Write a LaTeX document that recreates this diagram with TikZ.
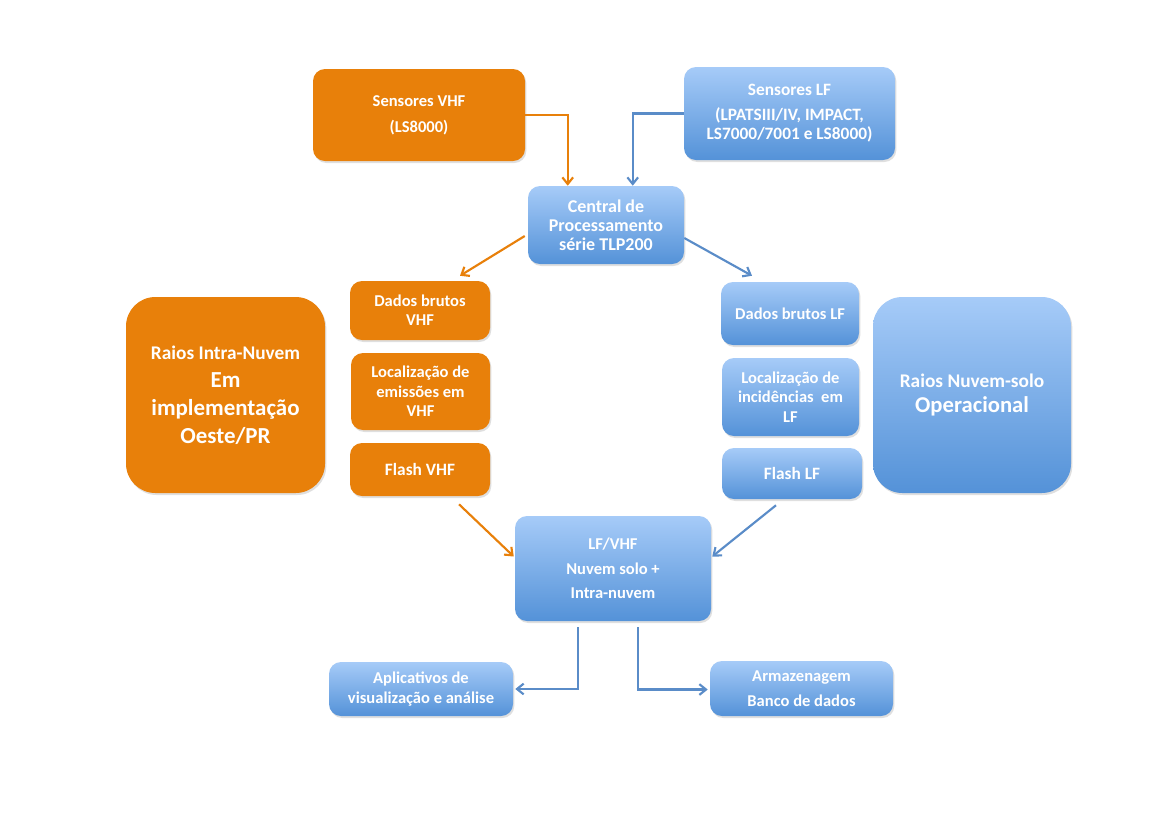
\documentclass[tikz,border=0pt]{standalone}
\usepackage{fontspec}
\setmainfont{Carlito}
\usetikzlibrary{calc,arrows.meta,shadows}
\definecolor{orng}{RGB}{232,128,10}
\definecolor{btop}{RGB}{166,203,248}
\definecolor{bbot}{RGB}{84,146,216}
\definecolor{barrow}{RGB}{90,140,200}
\tikzset{
  boxbase/.style={rounded corners=9pt, text=white, font=\bfseries\fontsize{12.4}{14.5}\selectfont, align=center, inner sep=0pt,
    drop shadow={opacity=0.25, shadow xshift=1pt, shadow yshift=-1.5pt}},
  obox/.style={boxbase, fill=orng},
  bbox/.style={boxbase, top color=btop, bottom color=bbot},
  bigbox/.style={rounded corners=22pt},
  oarr/.style={draw=orng, line width=1.6pt, -{Straight Barb[length=5pt,width=8pt]}},
  barr/.style={draw=barrow, line width=1.6pt, -{Straight Barb[length=5pt,width=8pt]}},
}
\begin{document}
\begin{tikzpicture}[x=0.75pt,y=-0.75pt]
\fill[white] (0,0) rectangle (1169,826);
\useasboundingbox (0,0) rectangle (1169,826);

\node[obox, minimum width=159pt, minimum height=69pt] (svhf) at (419,115)
  {Sensores VHF\\[5pt](LS8000)};
\node[bbox, minimum width=158.25pt, minimum height=69.75pt, font=\bfseries\fontsize{13}{14.5}\selectfont] (slf) at (789.5,113.5)
  {Sensores LF\\[4pt](LPATSIII/IV, IMPACT,\\LS7000/7001 e LS8000)};
\node[bbox, minimum width=117pt, minimum height=58.5pt, font=\bfseries\fontsize{13.5}{14.3}\selectfont] (central) at (606,225)
  {Central de\\Processamento\\série TLP200};

\node[obox, minimum width=105pt, minimum height=44.25pt] (dbvhf) at (420,310.5)
  {Dados brutos\\VHF};
\node[obox, minimum width=104.25pt, minimum height=57.75pt] (locvhf) at (420.5,391.5)
  {Localização de\\emissões em\\VHF};
\node[obox, minimum width=105pt, minimum height=39.75pt, font=\bfseries\fontsize{13}{15}\selectfont] (flvhf) at (420,469.5)
  {Flash VHF};
\node[obox, bigbox, minimum width=149.25pt, minimum height=147pt,
  font=\bfseries\fontsize{14.5}{21}\selectfont] (ic) at (225.5,395)
  {Raios Intra-Nuvem\\{\fontsize{17.2}{21}\selectfont Em}\\{\fontsize{17.2}{21}\selectfont implementação}\\{\fontsize{17.2}{21}\selectfont Oeste/PR}};

\node[bbox, minimum width=103.5pt, minimum height=47.25pt] (dblf) at (790,313.5)
  {Dados brutos LF};
\node[bbox, minimum width=102.75pt, minimum height=58.5pt] (loclf) at (790.5,397)
  {Localização de\\incidências~ em\\LF};
\node[bbox, minimum width=105pt, minimum height=38.25pt, font=\bfseries\fontsize{13}{15}\selectfont] (fllf) at (792,473.5)
  {Flash LF};
\node[bbox, bigbox, minimum width=148.5pt, minimum height=147pt,
  font=\bfseries\fontsize{14.5}{19}\selectfont] (cg) at (972,395)
  {Raios Nuvem-solo\\{\fontsize{17}{19}\selectfont Operacional}};

\node[bbox, minimum width=147pt, minimum height=78.75pt] (lfvhf) at (613,568.5)
  {LF/VHF\\[4pt]Nuvem solo +\\[4pt]Intra-nuvem};
\node[bbox, minimum width=138pt, minimum height=40.5pt] (apps) at (421,689)
  {Aplicativos de\\visualização e análise};
\node[bbox, minimum width=137.25pt, minimum height=41.25pt] (arm) at (801.5,688.5)
  {Armazenagem\\[4pt]Banco de dados};

% connectors
\draw[oarr] (svhf.east) -| ($(central.north west)+(40,0)$);
\draw[barr] (slf.west) -| ($(central.north west)+(105,0)$);
\draw[oarr] ($(central.west)+(-3,11)$) -- ($(dbvhf.north)+(40,-5)$);
\draw[barr] ($(central.east)+(0,13)$) -- ($(dblf.north)+(-38,-6)$);
\draw[oarr] ($(flvhf.south)+(39,8)$) -- ($(lfvhf.west)+(-1,-12)$);
\draw[barr] ($(fllf.south)+(-16,6)$) -- ($(lfvhf.east)+(1,-12)$);
\draw[barr] ($(lfvhf.south)+(-35,6)$) |- ($(apps.east)+(2,0)$);
\draw[barr] ($(lfvhf.south)+(25,6)$) |- ($(arm.west)+(-2,1)$);
\end{tikzpicture}
\end{document}
